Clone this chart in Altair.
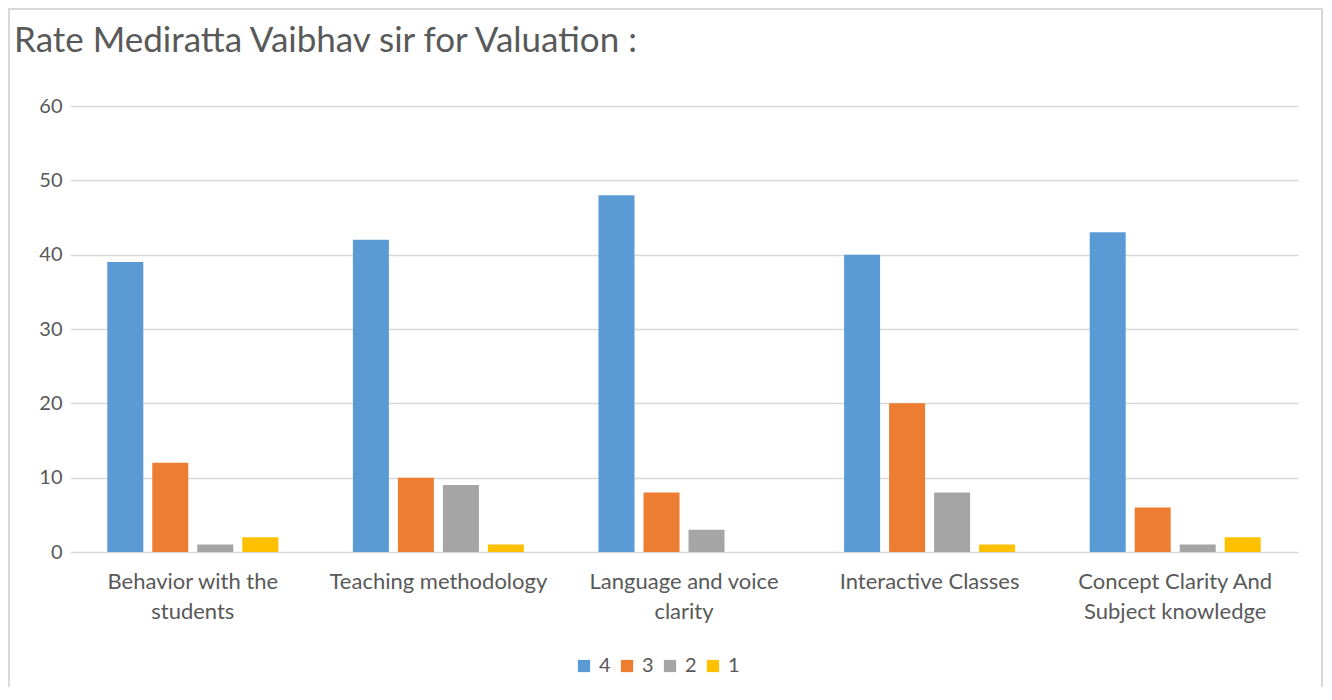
import altair as alt
import pandas as pd

categories = ["Behavior with the students", "Teaching methodology",
              "Language and voice clarity", "Interactive Classes",
              "Concept Clarity And Subject knowledge"]
label_lines = {
    "Behavior with the students": ["Behavior with the", "students"],
    "Teaching methodology": ["Teaching methodology"],
    "Language and voice clarity": ["Language and voice", "clarity"],
    "Interactive Classes": ["Interactive Classes"],
    "Concept Clarity And Subject knowledge": ["Concept Clarity And", "Subject knowledge"],
}
series = ["4", "3", "2", "1"]
colors = ["#5B9BD5", "#ED7D31", "#A5A5A5", "#FFC000"]
vals_4 = [39, 42, 48, 40, 43]
vals_3 = [12, 10, 8, 20, 6]
vals_2 = [1, 9, 3, 8, 1]
vals_1 = [2, 1, 0, 1, 2]
title_text = "Rate Mediratta Vaibhav sir for Valuation :"

rows = []
for s, vals in zip(series, [vals_4, vals_3, vals_2, vals_1]):
    for c, v in zip(categories, vals):
        rows.append({"cat": c, "series": s, "value": v})
df = pd.DataFrame(rows)

FONT = "Lato"
TXT = "#595959"

label_expr = "{" + ",".join(
    f"'{k}': [" + ",".join(f"'{l}'" for l in v) + "]" for k, v in label_lines.items()
) + "}[datum.value]"

bars = alt.Chart(df).mark_bar().encode(
    x=alt.X("cat:N", sort=categories, title=None,
            scale=alt.Scale(paddingInner=0.267, paddingOuter=0.1335),
            axis=alt.Axis(labelAngle=0, labelExpr=label_expr, labelFontSize=22,
                          labelColor=TXT, labelFont=FONT, ticks=False, domain=False,
                          grid=False,
                          labelPadding=19, labelLineHeight=30, labelBaseline="top",
                          labelLimit=300)),
    xOffset=alt.XOffset("series:N", sort=series,
                        scale=alt.Scale(domain=series, paddingInner=0.2, paddingOuter=0.1)),
    y=alt.Y("value:Q", title=None,
            scale=alt.Scale(domain=[0, 60]),
            axis=alt.Axis(values=[0, 10, 20, 30, 40, 50, 60], labelFontSize=20,
                          labelColor=TXT, labelFont=FONT, ticks=False, domain=False,
                          gridColor="#D9D9D9", gridWidth=1.5, labelPadding=8)),
    color=alt.Color("series:N", sort=series,
                    scale=alt.Scale(domain=series, range=colors),
                    legend=alt.Legend(title=None, orient="none", direction="horizontal",
                                      legendX=504, legendY=550, symbolType="square",
                                      symbolSize=150, symbolStrokeWidth=0,
                                      labelFontSize=20, labelColor=TXT, labelFont=FONT,
                                      columnPadding=6, labelOffset=5)),
)

one = alt.Data(values=[{"t": title_text}])

border = alt.Chart(one).mark_rect(
    fill=None, stroke="#D9D9D9", strokeWidth=2
).encode(
    x=alt.value(-61), x2=alt.value(1252), y=alt.value(-97), y2=alt.value(640)
)

title = alt.Chart(one).mark_text(
    align="left", baseline="middle", font=FONT, fontSize=35, color=TXT
).encode(
    x=alt.value(-56), y=alt.value(-65), text="t:N"
)

chart = alt.layer(bars, border, title).properties(
    width=1228, height=446,
    autosize=alt.AutoSizeParams(type="none"),
    padding={"left": 62, "top": 98, "right": 26, "bottom": 135},
    view=alt.ViewBackground(stroke="transparent", strokeWidth=0),
).configure_view(stroke="transparent", strokeWidth=0).configure(background="white")

chart.save("out.html", embed_options={"renderer": "svg", "actions": False})
